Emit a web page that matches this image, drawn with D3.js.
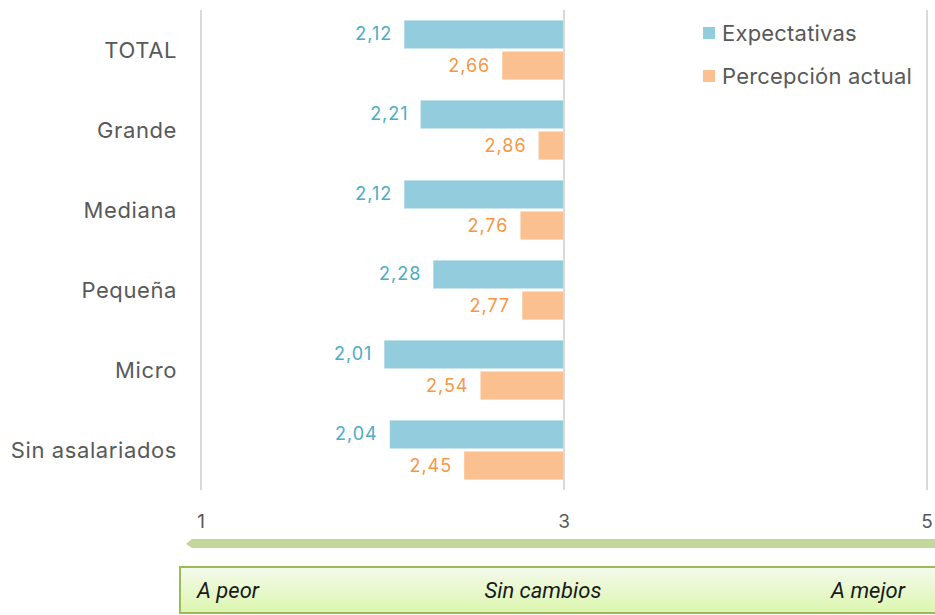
<!DOCTYPE html>
<html>
<head>
<meta charset="utf-8">
<script src="https://cdn.jsdelivr.net/npm/d3@7"></script>
<style>
	body { margin: 0; background: #fff; }
	svg text { font-family: "Inter", "Noto Sans", sans-serif; }
	.cat-label { font-size: 22px; fill: #595959; letter-spacing: 0.6px; }
	.tick-label { font-size: 19px; fill: #595959; }
	.val-label { font-size: 18px; letter-spacing: 1px; }
	.legend-text { font-size: 22px; fill: #595959; letter-spacing: 0.2px; }
	.scale-text { font-family: "Roboto", sans-serif !important; font-style: italic; font-size: 22px; fill: #1a1a1a; }
</style>
</head>
<body>
<div id="chart"></div>
<script>
var categories = ["TOTAL", "Grande", "Mediana", "Pequeña", "Micro", "Sin asalariados"];
var expectativas = [2.12, 2.21, 2.12, 2.28, 2.01, 2.04];
var percepcion = [2.66, 2.86, 2.76, 2.77, 2.54, 2.45];
var seriesNames = ["Expectativas", "Percepción actual"];
var tickValues = [1, 3, 5];
var scaleLabels = ["A peor", "Sin cambios", "A mejor"];

var width = 935;
var height = 615;

var svg = d3.select("#chart")
	.append("svg")
	.attr("width", width)
	.attr("height", height);

//Scales
var x = d3.scaleLinear().domain([1, 5]).range([201, 927]);
var y = d3.scaleBand().domain(categories).range([10, 490]).paddingInner(0.26).paddingOuter(0.13);
var colors = ["#93CDDD", "#FAC090"];
var textColors = ["#4BACC6", "#F79646"];
var fmt = function(v) { return d3.format(".2f")(v).replace(".", ","); };

//Gridlines
svg.selectAll(".grid")
	.data(tickValues)
	.enter().append("line")
	.attr("x1", function(d) { return x(d); })
	.attr("x2", function(d) { return x(d); })
	.attr("y1", 10)
	.attr("y2", 490)
	.style("stroke", "#d9d9d9")
	.style("stroke-width", 2);

svg.selectAll(".tick-label")
	.data(tickValues)
	.enter().append("text")
	.attr("class", "tick-label")
	.attr("x", function(d) { return x(d); })
	.attr("y", 528)
	.attr("text-anchor", "middle")
	.text(function(d) { return d; });

//Category labels
svg.selectAll(".cat-label")
	.data(categories)
	.enter().append("text")
	.attr("class", "cat-label")
	.attr("x", 177)
	.attr("y", function(d) { return y(d) + y.bandwidth() / 2 + 8; })
	.attr("text-anchor", "end")
	.text(function(d) { return d; });

//Bars
var series = [expectativas, percepcion];
var barH = (y.bandwidth() - 3) / 2;

series.forEach(function(vals, s) {
	var g = svg.append("g");
	g.selectAll("rect")
		.data(vals)
		.enter().append("rect")
		.attr("x", function(d) { return x(d); })
		.attr("y", function(d, i) { return y(categories[i]) + s * (barH + 3); })
		.attr("width", function(d) { return x(3) - x(d); })
		.attr("height", barH)
		.style("fill", colors[s]);

	g.selectAll("text")
		.data(vals)
		.enter().append("text")
		.attr("class", "val-label")
		.attr("x", function(d) { return x(d) - 12; })
		.attr("y", function(d, i) { return y(categories[i]) + s * (barH + 3) + barH / 2 + 6; })
		.attr("text-anchor", "end")
		.style("fill", textColors[s])
		.text(function(d) { return fmt(d); });
});

//Redraw centre line on top of bars
svg.append("line")
	.attr("x1", x(3)).attr("x2", x(3))
	.attr("y1", 10).attr("y2", 490)
	.style("stroke", "#d9d9d9")
	.style("stroke-width", 2);

//Legend
var legend = svg.selectAll(".legend")
	.data(seriesNames)
	.enter().append("g")
	.attr("transform", function(d, i) { return "translate(703," + (27 + i * 43) + ")"; });

legend.append("rect")
	.attr("width", 12)
	.attr("height", 12)
	.style("fill", function(d, i) { return colors[i]; });

legend.append("text")
	.attr("class", "legend-text")
	.attr("x", 19)
	.attr("y", 14)
	.text(function(d) { return d; });

//Arrow under the axis
svg.append("path")
	.attr("d", "M186,544 L192,539 L935,539 L935,548 L192,548 Z")
	.style("fill", "#C3D69B");

//Gradient box
var defs = svg.append("defs");
var grad = defs.append("linearGradient")
	.attr("id", "boxGrad")
	.attr("x1", 0).attr("y1", 0).attr("x2", 0).attr("y2", 1);
grad.append("stop").attr("offset", "0%").attr("stop-color", "#F4FAEC");
grad.append("stop").attr("offset", "100%").attr("stop-color", "#DCF6AE");

svg.append("rect")
	.attr("x", 180)
	.attr("y", 567)
	.attr("width", 770)
	.attr("height", 46)
	.style("fill", "url(#boxGrad)")
	.style("stroke", "#9BBB59")
	.style("stroke-width", 2);

svg.selectAll(".scale-text")
	.data(scaleLabels)
	.enter().append("text")
	.attr("class", "scale-text")
	.attr("x", function(d, i) { return [197, 543, 868][i]; })
	.attr("y", 598)
	.attr("text-anchor", function(d, i) { return ["start", "middle", "middle"][i]; })
	.text(function(d) { return d; });
</script>
</body>
</html>
